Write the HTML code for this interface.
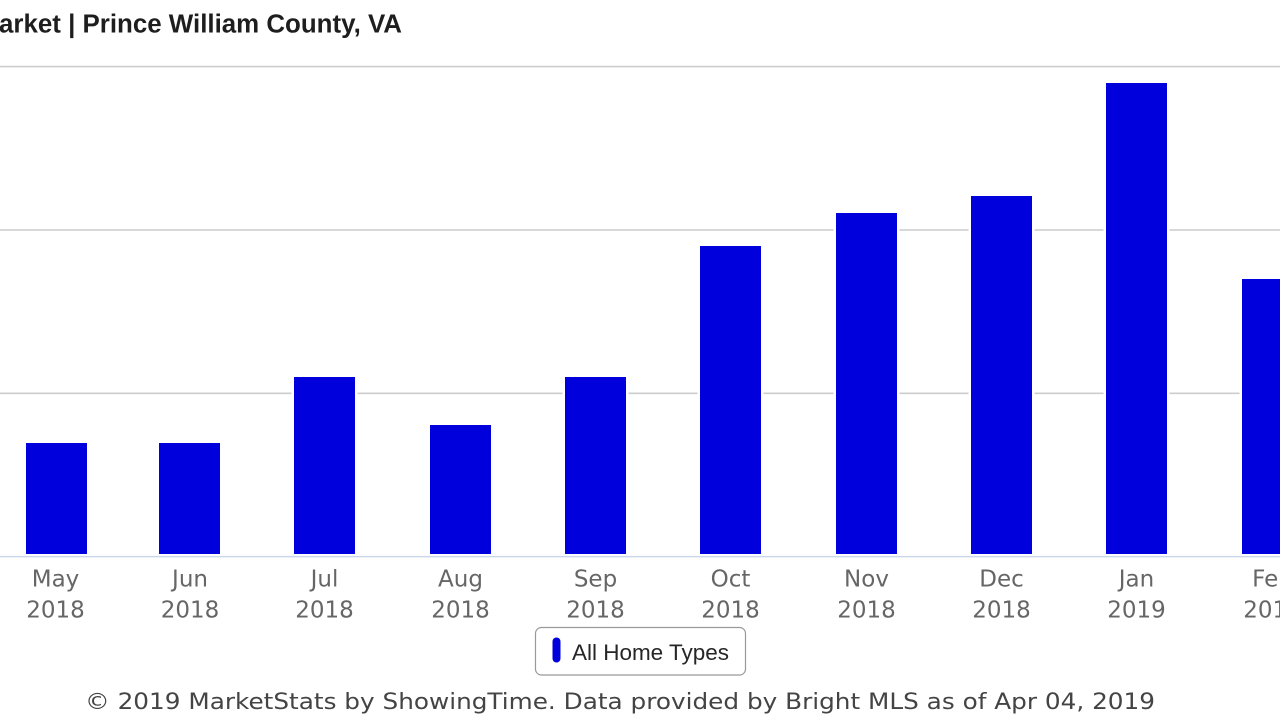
<!DOCTYPE html>
<html>
<head>
<meta charset="utf-8">
<style>
  html, body { margin:0; padding:0; background:#fff; }
  body { width:1280px; height:720px; overflow:hidden; }
  svg { display:block; }
</style>
</head>
<body>
<svg width="1280" height="720" viewBox="0 0 1280 720" xmlns="http://www.w3.org/2000/svg">
  <rect x="0" y="0" width="1280" height="720" fill="#ffffff"/>

  <!-- Title -->
  <text x="-1" y="32.5" text-anchor="end" font-family="'Liberation Sans', Arial, sans-serif" font-weight="bold" font-size="25.5" fill="#1e1e1e">Showings | M</text>
  <text x="-1" y="32.5" font-family="'Liberation Sans', Arial, sans-serif" font-weight="bold" font-size="25.5" fill="#1e1e1e" textLength="403" lengthAdjust="spacingAndGlyphs">arket | Prince William County, VA</text>

  <!-- Gridlines -->
  <g stroke="#cccccc" stroke-width="1.6">
    <line x1="0" y1="66.6" x2="1280" y2="66.6"/>
    <line x1="0" y1="230" x2="1280" y2="230"/>
    <line x1="0" y1="393.3" x2="1280" y2="393.3"/>
  </g>
  <!-- Axis line -->
  <line x1="0" y1="556.6" x2="1280" y2="556.6" stroke="#ccd6eb" stroke-width="1.5"/>

  <!-- Bar white borders -->
  <g fill="#ffffff">
    <rect x="23.5" y="440.5" width="66" height="114"/>
    <rect x="156.5" y="440.5" width="66" height="114"/>
    <rect x="291.5" y="374.5" width="66" height="180"/>
    <rect x="427.5" y="422.5" width="66" height="132"/>
    <rect x="562.5" y="374.5" width="66" height="180"/>
    <rect x="697.5" y="243.5" width="66" height="311"/>
    <rect x="833.5" y="210.5" width="66" height="344"/>
    <rect x="968.5" y="193.5" width="66" height="361"/>
    <rect x="1103.5" y="80.5" width="66" height="474"/>
    <rect x="1239.5" y="276.5" width="66" height="278"/>
  </g>
  <!-- Bars -->
  <g fill="#0000dd">
    <rect x="26" y="443" width="61" height="111"/>
    <rect x="159" y="443" width="61" height="111"/>
    <rect x="294" y="377" width="61" height="177"/>
    <rect x="430" y="425" width="61" height="129"/>
    <rect x="565" y="377" width="61" height="177"/>
    <rect x="700" y="246" width="61" height="308"/>
    <rect x="836" y="213" width="61" height="341"/>
    <rect x="971" y="196" width="61" height="358"/>
    <rect x="1106" y="83" width="61" height="471"/>
    <rect x="1242" y="279" width="61" height="275"/>
  </g>

  <!-- X axis labels -->
  <g font-family="'DejaVu Sans', 'Liberation Sans', sans-serif" font-size="23" fill="#666666" text-anchor="middle">
    <text x="55.5" y="586.7">May</text><text x="55.5" y="617.3">2018</text>
    <text x="190" y="586.7">Jun</text><text x="190" y="617.3">2018</text>
    <text x="324.5" y="586.7">Jul</text><text x="324.5" y="617.3">2018</text>
    <text x="460.5" y="586.7">Aug</text><text x="460.5" y="617.3">2018</text>
    <text x="595.5" y="586.7">Sep</text><text x="595.5" y="617.3">2018</text>
    <text x="730.5" y="586.7">Oct</text><text x="730.5" y="617.3">2018</text>
    <text x="866.5" y="586.7">Nov</text><text x="866.5" y="617.3">2018</text>
    <text x="1001.5" y="586.7">Dec</text><text x="1001.5" y="617.3">2018</text>
    <text x="1136.5" y="586.7">Jan</text><text x="1136.5" y="617.3">2019</text>
    <text x="1272.5" y="586.7">Feb</text><text x="1272.5" y="617.3">2019</text>
  </g>

  <!-- Legend -->
  <rect x="535.5" y="627.5" width="210" height="47.5" rx="6" ry="6" fill="#ffffff" stroke="#999999" stroke-width="1.2"/>
  <rect x="552.5" y="637.5" width="8" height="25" rx="4" ry="4" fill="#0000dd"/>
  <text x="572" y="660" font-family="'Liberation Sans', Arial, sans-serif" font-size="22" fill="#262626" textLength="157" lengthAdjust="spacingAndGlyphs">All Home Types</text>

  <!-- Footer -->
  <text x="85" y="709" font-family="'DejaVu Sans', 'Liberation Sans', sans-serif" font-size="22" fill="#444444" textLength="1070" lengthAdjust="spacingAndGlyphs">© 2019 MarketStats by ShowingTime. Data provided by Bright MLS as of Apr 04, 2019</text>
</svg>
</body>
</html>
